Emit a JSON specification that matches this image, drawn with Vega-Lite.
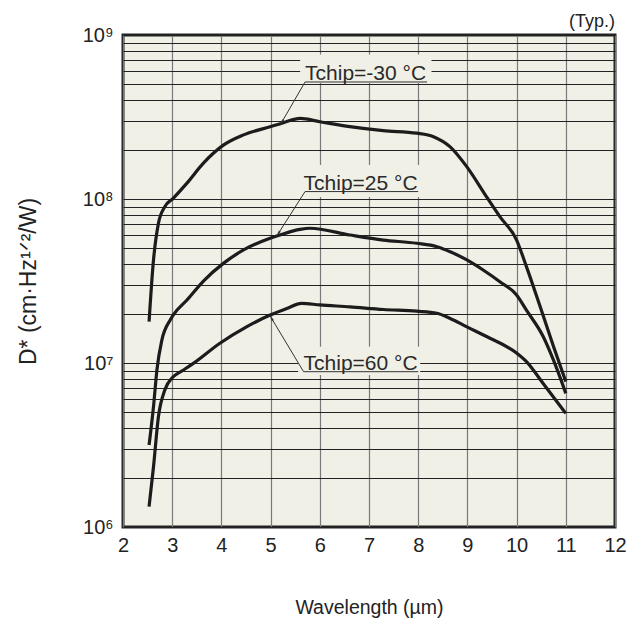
{
  "$schema": "https://vega.github.io/schema/vega-lite/v6.json",
  "width": 492,
  "height": 492,
  "autosize": {"type": "none"},
  "padding": {"left": 123, "top": 35, "right": 23, "bottom": 93},
  "background": "white",
  "config": {
    "font": "Liberation Sans",
    "view": {"fill": "#f0f0e7", "stroke": "#222222", "strokeWidth": 3}
  },
  "datasets": {
    "curves": [
      {"t": "-30", "x": 2.53, "y": 17900000}, {"t": "-30", "x": 2.62, "y": 42500000}, {"t": "-30", "x": 2.72, "y": 71000000}, {"t": "-30", "x": 2.85, "y": 89800000}, {"t": "-30", "x": 3.02, "y": 101000000}, {"t": "-30", "x": 3.3, "y": 125000000}, {"t": "-30", "x": 3.63, "y": 165000000}, {"t": "-30", "x": 4.04, "y": 213000000}, {"t": "-30", "x": 4.45, "y": 246000000}, {"t": "-30", "x": 4.99, "y": 276000000}, {"t": "-30", "x": 5.26, "y": 292000000}, {"t": "-30", "x": 5.6, "y": 310000000}, {"t": "-30", "x": 6.0, "y": 296000000}, {"t": "-30", "x": 6.61, "y": 276000000}, {"t": "-30", "x": 7.29, "y": 261000000}, {"t": "-30", "x": 7.97, "y": 252000000}, {"t": "-30", "x": 8.31, "y": 240000000}, {"t": "-30", "x": 8.65, "y": 208000000}, {"t": "-30", "x": 8.99, "y": 157000000}, {"t": "-30", "x": 9.39, "y": 103000000}, {"t": "-30", "x": 9.66, "y": 78000000}, {"t": "-30", "x": 10.0, "y": 56200000}, {"t": "-30", "x": 10.2, "y": 38700000}, {"t": "-30", "x": 10.48, "y": 22000000}, {"t": "-30", "x": 10.75, "y": 12600000}, {"t": "-30", "x": 11.0, "y": 7700000},
      {"t": "25", "x": 2.53, "y": 3160000}, {"t": "25", "x": 2.62, "y": 5420000}, {"t": "25", "x": 2.69, "y": 9100000}, {"t": "25", "x": 2.79, "y": 13800000}, {"t": "25", "x": 2.96, "y": 18300000}, {"t": "25", "x": 3.02, "y": 19600000}, {"t": "25", "x": 3.3, "y": 24200000}, {"t": "25", "x": 3.63, "y": 31500000}, {"t": "25", "x": 4.04, "y": 40500000}, {"t": "25", "x": 4.45, "y": 48900000}, {"t": "25", "x": 4.99, "y": 57600000}, {"t": "25", "x": 5.19, "y": 60300000}, {"t": "25", "x": 5.6, "y": 65300000}, {"t": "25", "x": 5.8, "y": 66300000}, {"t": "25", "x": 6.61, "y": 60300000}, {"t": "25", "x": 7.29, "y": 56200000}, {"t": "25", "x": 7.97, "y": 53700000}, {"t": "25", "x": 8.38, "y": 51200000}, {"t": "25", "x": 8.65, "y": 47700000}, {"t": "25", "x": 8.99, "y": 42500000}, {"t": "25", "x": 9.32, "y": 36900000}, {"t": "25", "x": 9.66, "y": 31300000}, {"t": "25", "x": 10.0, "y": 26000000}, {"t": "25", "x": 10.2, "y": 21000000}, {"t": "25", "x": 10.54, "y": 14500000}, {"t": "25", "x": 10.75, "y": 10400000}, {"t": "25", "x": 11.0, "y": 6530000},
      {"t": "60", "x": 2.53, "y": 1330000}, {"t": "60", "x": 2.62, "y": 2330000}, {"t": "60", "x": 2.72, "y": 4710000}, {"t": "60", "x": 2.85, "y": 6840000}, {"t": "60", "x": 3.02, "y": 8240000}, {"t": "60", "x": 3.2, "y": 8950000}, {"t": "60", "x": 3.43, "y": 9950000}, {"t": "60", "x": 3.97, "y": 13200000}, {"t": "60", "x": 4.51, "y": 16600000}, {"t": "60", "x": 4.99, "y": 19600000}, {"t": "60", "x": 5.33, "y": 21500000}, {"t": "60", "x": 5.63, "y": 23100000}, {"t": "60", "x": 6.0, "y": 22600000}, {"t": "60", "x": 6.61, "y": 22000000}, {"t": "60", "x": 7.29, "y": 21200000}, {"t": "60", "x": 7.97, "y": 20700000}, {"t": "60", "x": 8.38, "y": 20100000}, {"t": "60", "x": 8.65, "y": 18700000}, {"t": "60", "x": 8.99, "y": 16600000}, {"t": "60", "x": 9.39, "y": 14500000}, {"t": "60", "x": 10.0, "y": 11500000}, {"t": "60", "x": 10.2, "y": 10200000}, {"t": "60", "x": 10.54, "y": 7500000}, {"t": "60", "x": 11.0, "y": 4930000}
    ],
    "notes": [
      {"t": "-30", "label": "Tchip=-30 °C", "tx": 5.7, "bx1": 5.6, "bx2": 8.27, "by1": 760000000, "by2": 510000000, "ux1": 5.7, "ux2": 8.18, "uy": 517000000, "lx": 5.23, "ly": 295000000},
      {"t": "25", "label": "Tchip=25 °C", "tx": 5.67, "bx1": 5.6, "bx2": 8.08, "by1": 161000000, "by2": 103000000, "ux1": 5.7, "ux2": 8.0, "uy": 111000000, "lx": 5.16, "ly": 61800000},
      {"t": "60", "label": "Tchip=60 °C", "tx": 5.67, "bx1": 5.56, "bx2": 8.04, "by1": 12560000, "by2": 8450000, "ux1": 5.67, "ux2": 8.0, "uy": 8850000, "lx": 5.02, "ly": 18700000}
    ]
  },
  "layer": [
    {
      "data": {"name": "notes"},
      "mark": {"type": "rect", "fill": "#f0f0e7", "stroke": null},
      "encoding": {
        "x": {"field": "bx1", "type": "quantitative", "scale": {"domain": [2, 12], "nice": false, "zero": false},
          "axis": {"values": [2, 3, 4, 5, 6, 7, 8, 9, 10, 11, 12], "title": "Wavelength (µm)", "grid": true, "gridColor": "#7a7a7a", "gridWidth": 1.2, "gridOpacity": 1, "ticks": false, "domain": false, "labelFontSize": 20, "labelColor": "#222", "labelPadding": 8, "labelFlush": false, "labelOverlap": false, "titleFontSize": 19.5, "titleFontWeight": "normal", "titleColor": "#222", "titleY": 80, "titleBaseline": "middle"}},
        "x2": {"field": "bx2"},
        "y": {"field": "by1", "type": "quantitative", "scale": {"type": "log", "domain": [1000000, 1000000000], "nice": false},
          "axis": {"values": [1000000, 2000000, 3000000, 4000000, 5000000, 6000000, 7000000, 8000000, 9000000, 10000000, 20000000, 30000000, 40000000, 50000000, 60000000, 70000000, 80000000, 90000000, 100000000, 200000000, 300000000, 400000000, 500000000, 600000000, 700000000, 800000000, 900000000, 1000000000],
            "labelExpr": "datum.value == 1000000 ? '10⁶' : datum.value == 10000000 ? '10⁷' : datum.value == 100000000 ? '10⁸' : datum.value == 1000000000 ? '10⁹' : ''",
            "title": "D* (cm·Hz¹ᐟ²/W)", "grid": true, "gridColor": "#222222", "gridWidth": 1.1, "gridOpacity": 1, "ticks": false, "domain": false, "labelFontSize": 20, "labelColor": "#222", "labelPadding": 10, "labelFlush": false, "labelOverlap": false, "titleFontSize": 23, "titleFontWeight": "normal", "titleColor": "#222", "titleX": -95, "titleY": 246, "titleAngle": -90, "titleAlign": "center", "titleBaseline": "middle"}},
        "y2": {"field": "by2"}
      }
    },
    {
      "data": {"name": "curves"},
      "mark": {"type": "line", "color": "#1c1c1c", "strokeWidth": 3.2, "interpolate": "monotone"},
      "encoding": {
        "x": {"field": "x", "type": "quantitative"},
        "y": {"field": "y", "type": "quantitative"},
        "detail": {"field": "t"}
      }
    },
    {
      "data": {"name": "notes"},
      "mark": {"type": "rule", "color": "#333", "strokeWidth": 1},
      "encoding": {
        "x": {"field": "ux1", "type": "quantitative"},
        "x2": {"field": "ux2"},
        "y": {"field": "uy", "type": "quantitative"}
      }
    },
    {
      "data": {"name": "notes"},
      "mark": {"type": "rule", "color": "#333", "strokeWidth": 1},
      "encoding": {
        "x": {"field": "ux1", "type": "quantitative"},
        "x2": {"field": "lx"},
        "y": {"field": "uy", "type": "quantitative"},
        "y2": {"field": "ly"}
      }
    },
    {
      "data": {"name": "notes"},
      "transform": [{"filter": "datum.t == '-30'"}],
      "mark": {"type": "point", "shape": "wedge", "filled": true, "color": "#333", "size": 80, "angle": 210, "opacity": 1},
      "encoding": {"x": {"field": "lx", "type": "quantitative"}, "y": {"field": "ly", "type": "quantitative"}}
    },
    {
      "data": {"name": "notes"},
      "transform": [{"filter": "datum.t == '25'"}],
      "mark": {"type": "point", "shape": "wedge", "filled": true, "color": "#333", "size": 80, "angle": 213, "opacity": 1},
      "encoding": {"x": {"field": "lx", "type": "quantitative"}, "y": {"field": "ly", "type": "quantitative"}}
    },
    {
      "data": {"name": "notes"},
      "transform": [{"filter": "datum.t == '60'"}],
      "mark": {"type": "point", "shape": "wedge", "filled": true, "color": "#333", "size": 80, "angle": 329, "opacity": 1},
      "encoding": {"x": {"field": "lx", "type": "quantitative"}, "y": {"field": "ly", "type": "quantitative"}}
    },
    {
      "data": {"name": "notes"},
      "mark": {"type": "text", "align": "left", "baseline": "alphabetic", "fontSize": 21, "color": "#2a2a2a", "dy": -2},
      "encoding": {
        "x": {"field": "tx", "type": "quantitative"},
        "y": {"field": "uy", "type": "quantitative"},
        "text": {"field": "label"}
      }
    },
    {
      "data": {"values": [{"x": 12, "y": 1000000000, "s": "(Typ.)"}]},
      "mark": {"type": "text", "align": "right", "baseline": "bottom", "fontSize": 18, "color": "#222", "dy": -4},
      "encoding": {
        "x": {"field": "x", "type": "quantitative"},
        "y": {"field": "y", "type": "quantitative"},
        "text": {"field": "s"}
      }
    }
  ]
}
